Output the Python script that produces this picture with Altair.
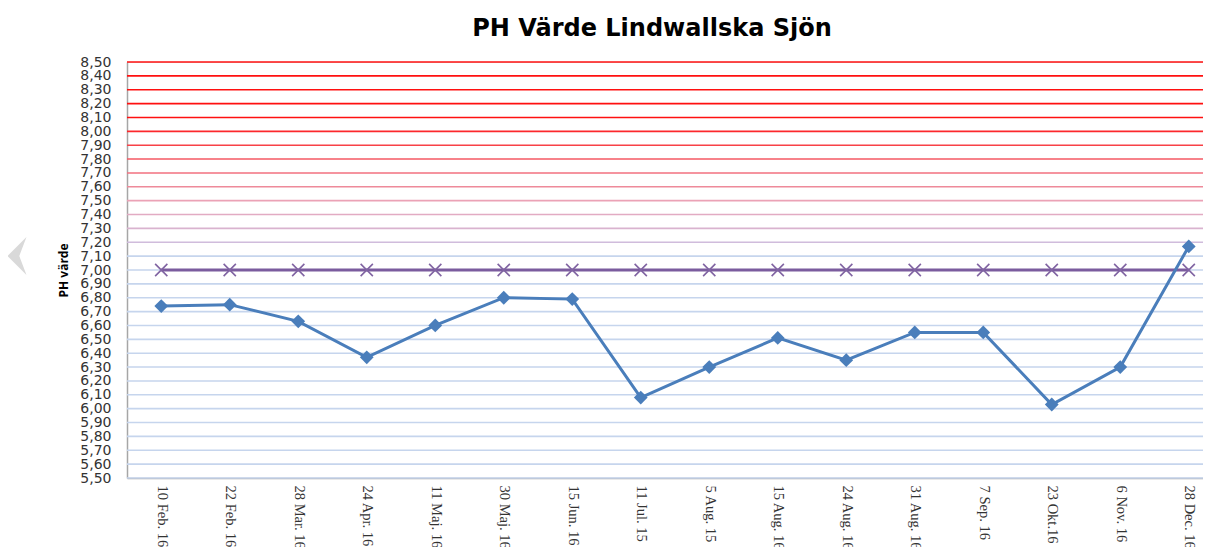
import altair as alt
import pandas as pd

dates = ["10 Feb. 16", "22 Feb. 16", "28 Mar. 16", "24 Apr. 16", "11 Maj. 16",
         "30 Maj. 16", "15 Jun. 16", "11 Jul. 15", "5 Aug. 15", "15 Aug. 16",
         "24 Aug. 16", "31 Aug. 16", "7 Sep. 16", "23 Okt.16", "6 Nov. 16", "28 Dec. 16"]
ph_values = [6.74, 6.75, 6.63, 6.37, 6.60, 6.80, 6.79, 6.08, 6.30, 6.51,
             6.35, 6.55, 6.55, 6.03, 6.30, 7.17]
limit_values = [7.00] * 16
grid_values = [round(5.5 + 0.1 * i, 2) for i in range(31)]

df = pd.DataFrame({"datum": dates, "ph": ph_values, "grans": limit_values})
grid = pd.DataFrame({"v": grid_values})

x_enc = alt.X("datum:N", sort=dates, title=None,
              scale=alt.Scale(type="point", padding=0.5, range=[0, 1096]),
              axis=alt.Axis(labelAngle=90, labelAlign="left", labelBaseline="middle",
                            labelFont="Liberation Serif", labelFontSize=14.5,
                            labelColor="#333333", labelPadding=7, ticks=False,
                            labelOverlap=False, labelBound=False,
                            domainColor="#a6a6a6", domainWidth=1.5))
y_scale = alt.Scale(domain=[5.5, 8.5], nice=False, zero=False)

y_axis = alt.Axis(values=grid_values, format=".2f", labelExpr="replace(datum.label, '.', ',')",
                  grid=False, ticks=False, labelFont="DejaVu Sans", labelFontSize=14,
                  labelColor="#333333", labelPadding=16, labelOverlap=False,
                  labelBound=False, labelFlush=False,
                  domainColor="#a6a6a6",
                  domainWidth=1.5, title="PH värde", titleFont="Open Sans",
                  titleFontSize=12, titleFontWeight="bold", titleColor="#000000",
                  titlePadding=9)

grid_layer = alt.Chart(grid).mark_rule(strokeWidth=1.6).encode(
    y=alt.Y("v:Q", scale=y_scale, axis=y_axis),
    color=alt.Color("v:Q", legend=None,
                    scale=alt.Scale(domain=[7.1, 7.2, 7.5, 8.1],
                                    range=["#c6d5ed", "#d0bcdc", "#eba2b6", "#ff1010"],
                                    interpolate="rgb", clamp=True)),
)

# light grey side arrow seen at the left edge of the original
arrow = alt.Chart(pd.DataFrame({"a": [0]})).mark_point(
    shape="M -0.5 0 L 0.5 -1 L 0.12 0 L 0.5 1 Z", filled=True, color="#d9d9d9",
    size=1444, opacity=1).encode(x=alt.value(-110), y=alt.value(194))

limit_line = alt.Chart(df).mark_line(color="#7b5c9e", strokeWidth=3).encode(
    x=x_enc, y=alt.Y("grans:Q", scale=y_scale, axis=y_axis))
limit_pts = alt.Chart(df).mark_point(
    shape="M -1 -1 L 1 1 M -1 1 L 1 -1", filled=False, color="#8064A2",
    strokeWidth=1.6, size=150, opacity=1).encode(
    x=x_enc, y=alt.Y("grans:Q", scale=y_scale, axis=y_axis))

ph_line = alt.Chart(df).mark_line(color="#4A7EBB", strokeWidth=3).encode(
    x=x_enc, y=alt.Y("ph:Q", scale=y_scale, axis=y_axis))
ph_pts = alt.Chart(df).mark_point(shape="diamond", filled=True, color="#4A7EBB",
                                  size=190, opacity=1).encode(
    x=x_enc, y=alt.Y("ph:Q", scale=y_scale, axis=y_axis))

chart = alt.layer(grid_layer, arrow, limit_line, limit_pts, ph_line, ph_pts).properties(
    width=1076, height=416,
    title=alt.TitleParams("PH Värde Lindwallska Sjön", font="DejaVu Sans", fontSize=24,
                          fontWeight="bold", color="#000000", anchor="middle",
                          dx=-13, offset=14),
    autosize=alt.AutoSizeParams(type="none"),
    padding={"left": 119, "top": 54, "right": 0, "bottom": 90},
).configure_view(stroke=None).configure(background="white")

chart.save("out.html", embed_options={"renderer": "svg", "actions": False})
